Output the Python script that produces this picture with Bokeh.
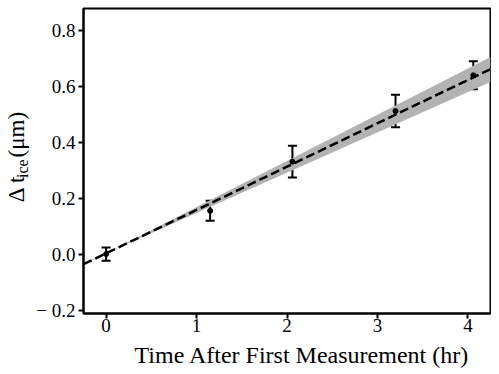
import math
from bokeh.plotting import figure
from bokeh.layouts import row, column
from bokeh.models import (ColumnDataSource, FixedTicker, CustomJSTickFormatter,
                          Range1d, Whisker)
from bokeh.core.properties import value
from bokeh.embed import file_html
from bokeh.resources import INLINE

# ---- data ----
time_hr = [0.0, 1.15, 2.06, 3.20, 4.06]
delta_t = [0.000, 0.155, 0.331, 0.512, 0.640]
delta_err = [0.024, 0.036, 0.057, 0.058, 0.050]

fit_x = [-0.25, 4.25]
fit_y = [-0.036, 0.662]

band_x = [-0.25, 0.0, 4.25]
band_lo = [-0.038, 0.003, 0.616]
band_hi = [-0.034, 0.003, 0.705]

x_ticks = [0, 1, 2, 3, 4]
y_ticks = [-0.2, 0.0, 0.2, 0.4, 0.6, 0.8]

x_label = "Time After First Measurement (hr)"
y_label_parts = ["\u0394 t", "ice", "(\u03bcm)"]

FONT = "Liberation Serif"
LEFTW = 33          # width of the y-label strip
H = 340             # height of the main plot
BH = 33             # height of the x-label strip

# ---------------- main plot ----------------
p = figure(width=491 - LEFTW, height=H, output_backend="svg", toolbar_location=None,
           x_range=Range1d(-0.25, 4.25), y_range=Range1d(-0.2125, 0.879),
           min_border_left=82 - LEFTW, min_border_right=1, min_border_top=8,
           min_border_bottom=H - 313)
p.grid.visible = False
p.outline_line_color = "black"
p.outline_line_width = 2
p.background_fill_color = "white"
p.border_fill_color = "white"

for ax in (p.xaxis[0], p.yaxis[0]):
    ax.axis_line_width = 2
    ax.axis_line_color = "black"
    ax.major_tick_line_width = 2
    ax.major_tick_line_color = "black"
    ax.major_tick_in = 0
    ax.major_tick_out = 5
    ax.minor_tick_line_color = None
    ax.major_label_text_font = FONT
    ax.major_label_text_font_size = "19px"
    ax.major_label_text_color = "black"
p.yaxis.major_label_standoff = 3
p.xaxis.major_label_standoff = 0

p.xaxis.ticker = FixedTicker(ticks=x_ticks)
p.yaxis.ticker = FixedTicker(ticks=y_ticks)
p.xaxis.formatter = CustomJSTickFormatter(code="return tick.toFixed(0);")
p.yaxis.formatter = CustomJSTickFormatter(
    code="return tick < -1e-9 ? '\u2212 ' + Math.abs(tick).toFixed(1) : Math.abs(tick).toFixed(1);")

# confidence band
band = ColumnDataSource(dict(x=band_x, lo=band_lo, hi=band_hi))
p.varea(x="x", y1="lo", y2="hi", source=band, fill_color="#b3b3b3")

# error bars
pts = ColumnDataSource(dict(
    x=time_hr, y=delta_t,
    lower=[v - e for v, e in zip(delta_t, delta_err)],
    upper=[v + e for v, e in zip(delta_t, delta_err)]))
w = Whisker(base="x", lower="lower", upper="upper", source=pts,
            line_color="black", line_width=2)
for head in (w.upper_head, w.lower_head):
    head.size = 9
    head.line_width = 2
    head.line_color = "black"
p.add_layout(w)
p.scatter("x", "y", source=pts, size=5, color="black")

# fit line
p.line(fit_x, fit_y, line_color="black", line_width=2.5, line_dash="9 4")


def blank(width, height):
    f = figure(width=width, height=height, output_backend="svg",
               toolbar_location=None, x_range=Range1d(0, width),
               y_range=Range1d(0, height), min_border=0,
               x_axis_location=None, y_axis_location=None)
    f.grid.visible = False
    f.outline_line_color = None
    f.background_fill_color = "white"
    f.border_fill_color = "white"
    return f


txt = dict(text_font=value(FONT), text_color="black",
           text_baseline="alphabetic")

# ---------------- y-axis label strip (rotated, with subscript) ----------------
yl = blank(LEFTW, H)
yl.text(x=[16], y=[H - 216], text=[y_label_parts[0]], angle=math.pi / 2,
        text_font_size=value("23px"), text_align="left", **txt)
yl.text(x=[22], y=[H - 189], text=[y_label_parts[1]], angle=math.pi / 2,
        text_font_size=value("16px"), text_align="left", **txt)
yl.text(x=[16], y=[H - 166], text=[y_label_parts[2]], angle=math.pi / 2,
        text_font_size=value("23px"), text_align="left", **txt)

# ---------------- x-axis label strip ----------------
xl = blank(491, BH)
xl.text(x=[301.5], y=[BH - (354 - H)], text=[x_label],
        text_font_size=value("24px"), text_align="center", **txt)

layout = column(row(yl, p), xl)
open("out.html", "w").write(file_html(layout, INLINE))
